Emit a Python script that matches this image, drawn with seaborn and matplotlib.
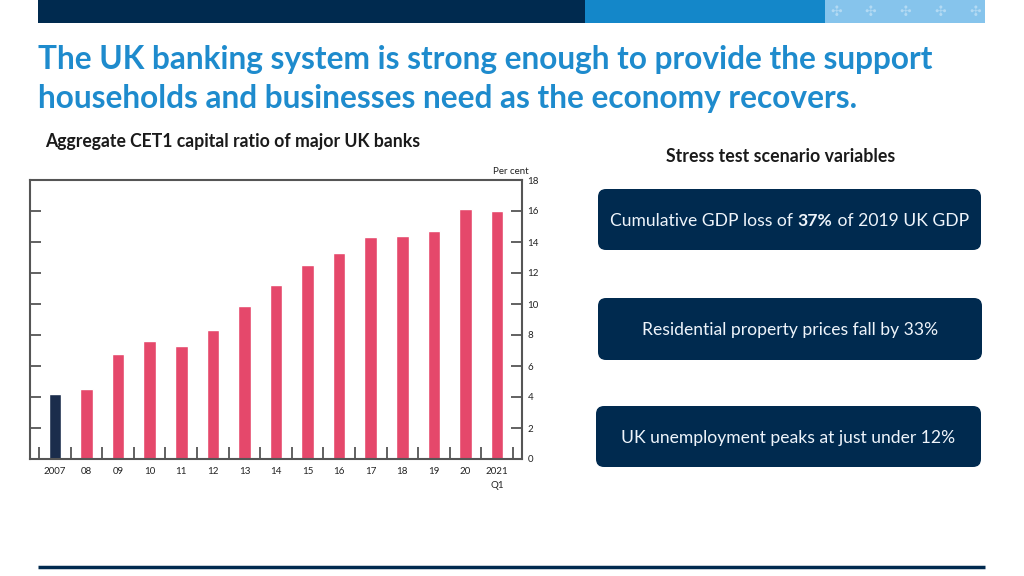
import numpy as np
import matplotlib
matplotlib.use("Agg")
import matplotlib.pyplot as plt
from matplotlib.patches import FancyBboxPatch, Rectangle
import seaborn as sns

# data
years = ["2007", "08", "09", "10", "11", "12", "13", "14", "15", "16",
         "17", "18", "19", "20", "2021\nQ1"]
cet1 = [4.2, 4.5, 6.8, 7.6, 7.3, 8.35, 9.9, 11.2, 12.5, 13.3,
        14.35, 14.4, 14.7, 16.1, 16.0]
bar_colors = ["#1b2d4c"] + ["#e5486b"] * 14
y_ticks = list(range(0, 19, 2))

title = ("The UK banking system is strong enough to provide the support\n"
         "households and businesses need as the economy recovers.")
subtitle = "Aggregate CET1 capital ratio of major UK banks"
panel_title = "Stress test scenario variables"
scenario_boxes = [
    ["Cumulative GDP loss of ", "37%", " of 2019 UK GDP"],
    ["Residential property prices fall by 33%"],
    ["UK unemployment peaks at just under 12%"],
]

NAVY = "#002a4f"
MID = "#1487c9"
LIGHT = "#86c4ec"
TITLE_BLUE = "#1e8bcd"

sns.set_style("white")
plt.rcParams["font.family"] = ["Lato", "DejaVu Sans"]

fig = plt.figure(figsize=(10.24, 5.76), dpi=100)

# background layer in pixel coords
bg = fig.add_axes([0, 0, 1, 1], zorder=0)
bg.set_xlim(0, 1024)
bg.set_ylim(576, 0)
bg.axis("off")

# top banner
bg.add_patch(Rectangle((38, 0), 547, 23, color=NAVY, lw=0))
bg.add_patch(Rectangle((585, 0), 240, 23, color=MID, lw=0))
bg.add_patch(Rectangle((825, 0), 160, 23, color=LIGHT, lw=0))
for cx in [836, 870, 905, 940, 975]:
    bg.text(cx, 12, "\u2723", color="#b3daf3", fontsize=10, ha="center",
            va="center", family="DejaVu Sans")

# bottom rule
bg.plot([38, 985], [567, 567], color=NAVY, lw=2.5, solid_capstyle="butt")

# titles
bg.text(38, 79, title, color=TITLE_BLUE, fontsize=22.8, fontweight="bold",
        ha="left", va="center", linespacing=1.4)
bg.text(45, 141, subtitle, color="#1a1a1a", fontsize=12.7, fontweight="bold",
        ha="left", va="center")
bg.text(781, 156, panel_title, color="#1a1a1a", fontsize=12.8, fontweight="bold",
        ha="center", va="center")

# scenario boxes
box_geom = [(598, 189, 383, 61), (598, 298, 384, 62), (596, 406, 385, 61)]
renderer = fig.canvas.get_renderer()
for (x0, y0, w, h), parts in zip(box_geom, scenario_boxes):
    bg.add_patch(FancyBboxPatch((x0, y0), w, h,
                                boxstyle="round,pad=0,rounding_size=8",
                                fc=NAVY, ec="none"))
    cy = y0 + h / 2 + 1.5
    texts = []
    for i, p in enumerate(parts):
        t = bg.text(0, cy, p, color="#eef4fb", fontsize=12.6,
                    fontweight="bold" if (len(parts) > 1 and i == 1) else "normal",
                    ha="left", va="center")
        texts.append(t)
    widths = [t.get_window_extent(renderer).width for t in texts]
    x = x0 + w / 2 - sum(widths) / 2
    for t, wd in zip(texts, widths):
        t.set_x(x)
        x += wd

# chart
ax = fig.add_axes([30 / 1024, 1 - 459 / 576, (522 - 30) / 1024, (459 - 180) / 576],
                  zorder=2)
sns.barplot(x=years, y=cet1, hue=years, palette=bar_colors, width=0.4,
            saturation=1, legend=False, ax=ax)
ax.set_xlim(-0.79, 14.79)
ax.set_ylim(0, 18)
ax.set_xlabel("")
ax.set_ylabel("")
ax.set_yticks(y_ticks)
ax.yaxis.tick_right()
ax.tick_params(axis="y", left=True, right=True, labelleft=False, labelright=True,
               direction="in", length=8, width=1.3, color="#555555",
               labelsize=7, labelcolor="#222222", pad=4)
ax.set_xticks(np.arange(-0.5, len(years)), minor=True)
ax.tick_params(axis="x", which="major", length=0, labelsize=7,
               labelcolor="#222222", pad=6)
ax.tick_params(axis="x", which="minor", direction="in", length=9, width=1.3,
               color="#555555", bottom=True)
for lab in ax.get_xticklabels():
    lab.set_linespacing(1.6)
for s in ax.spines.values():
    s.set_visible(True)
    s.set_color("#555555")
    s.set_linewidth(1.5)
ax.text(1.013, 1.015, "Per cent", transform=ax.transAxes, ha="right",
        va="bottom", fontsize=7, color="#222222")

fig.savefig("out.png", dpi=100)
